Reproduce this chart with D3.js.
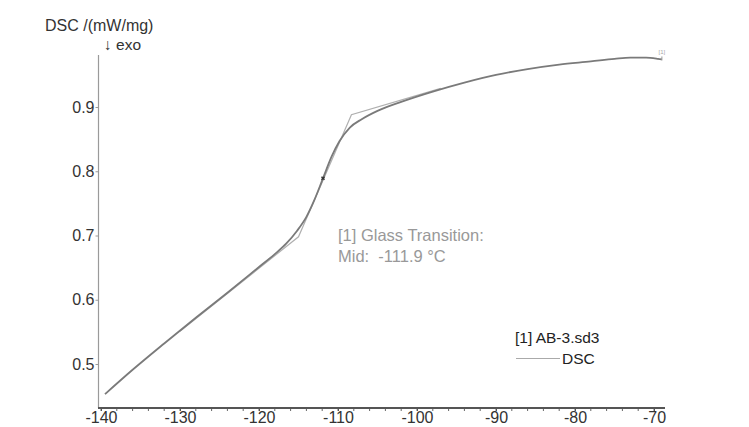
<!DOCTYPE html>
<html>
<head>
<meta charset="utf-8">
<script src="https://cdn.jsdelivr.net/npm/d3@7"></script>
<style>
  html, body { margin: 0; padding: 0; background: #fff; }
  svg { display: block; font-family: "Liberation Sans", Arial, sans-serif; }
</style>
</head>
<body>
<svg id="chart" width="749" height="427"></svg>
<script>
// ---- data ----
const temps = [-139.5, -136, -132, -128, -124, -120, -118, -116.5, -115.2, -114, -113, -111.9, -110.8, -109.8, -108.5, -107, -105, -102, -98, -94, -90, -86, -82, -78, -75, -73, -71, -69.5, -69.0];
const dscValues = [0.453, 0.491, 0.532, 0.572, 0.611, 0.651, 0.671, 0.688, 0.707, 0.729, 0.755, 0.789, 0.823, 0.847, 0.868, 0.881, 0.894, 0.908, 0.924, 0.938, 0.950, 0.959, 0.966, 0.971, 0.975, 0.977, 0.977, 0.975, 0.974];
const tangentTemps = [-130, -115, -108.3, -97];
const tangentValues = [0.551, 0.698, 0.888, 0.929];
const midTemp = -111.9, midValue = 0.789;
const xTicks = [-140, -130, -120, -110, -100, -90, -80, -70];
const yTicks = [0.5, 0.6, 0.7, 0.8, 0.9];
const yLabel = "DSC /(mW/mg)";
const exoLabel = "\u2193 exo";
const annotation = ["[1] Glass Transition:", "Mid:  -111.9 \u00B0C"];
const legendTitle = "[1] AB-3.sd3";
const legendSeries = "DSC";

// ---- layout ----
const svg = d3.select("#chart");
const x = d3.scaleLinear().domain([-140, -70]).range([101, 654]);
const y = d3.scaleLinear().domain([0.5, 0.9]).range([364, 107]);
const axisY = 408, axisX = 98.5;
const xEnd = 665, yTop = 55;
const ff = "'Liberation Sans', Arial, sans-serif";

// y axis line
svg.append("line").attr("x1", axisX).attr("x2", axisX).attr("y1", yTop).attr("y2", axisY)
  .attr("stroke", "#9a9a9a").attr("stroke-width", 1.2);

// y ticks
const yAxis = d3.axisLeft(y).tickValues(yTicks).tickFormat(d3.format(".1f")).tickSize(3).tickPadding(1);
const gy = svg.append("g").attr("transform", `translate(${axisX},0)`).call(yAxis);
gy.select(".domain").remove();
gy.selectAll(".tick line").attr("stroke", "#9a9a9a");
gy.selectAll(".tick text").attr("fill", "#333").style("font-size", "16px").style("font-family", ff);

// x minor ticks
const minor = d3.range(-140, -68.9, 2);
svg.append("g").selectAll("line").data(minor).join("line")
  .attr("x1", d => x(d)).attr("x2", d => x(d))
  .attr("y1", axisY).attr("y2", axisY + 3)
  .attr("stroke", "#666").attr("stroke-width", 1);

// x axis
const xAxis = d3.axisBottom(x).tickValues(xTicks).tickFormat(d => d).tickSize(3).tickPadding(1);
const gx = svg.append("g").attr("transform", `translate(0,${axisY})`).call(xAxis);
gx.select(".domain").remove();
gx.selectAll(".tick line").attr("stroke", "#555");
gx.selectAll(".tick text").attr("fill", "#333").style("font-size", "16px").style("font-family", ff);
svg.append("line").attr("x1", axisX - 0.5).attr("x2", xEnd).attr("y1", axisY).attr("y2", axisY)
  .attr("stroke", "#555").attr("stroke-width", 2);

// axis titles
svg.append("text").attr("x", 45).attr("y", 31).attr("fill", "#333").style("font-size", "16px").text(yLabel);
svg.append("text").attr("x", 104).attr("y", 50).attr("fill", "#333").style("font-size", "15.5px").text(exoLabel);

// tangent construction lines
const line = d3.line().x(d => x(d[0])).y(d => y(d[1]));
svg.append("path").datum(d3.zip(tangentTemps, tangentValues))
  .attr("d", line).attr("fill", "none").attr("stroke", "#b0b0b0").attr("stroke-width", 1.2);

// DSC curve
const curve = d3.line().x(d => x(d[0])).y(d => y(d[1])).curve(d3.curveMonotoneX);
svg.append("path").datum(d3.zip(temps, dscValues))
  .attr("d", curve).attr("fill", "none").attr("stroke", "#7a7a7a").attr("stroke-width", 1.8);

// end marker
const lastT = temps[temps.length - 1], lastV = dscValues[dscValues.length - 1];
svg.append("line").attr("x1", x(lastT)).attr("x2", x(lastT)).attr("y1", y(lastV) - 3).attr("y2", y(lastV) + 1)
  .attr("stroke", "#999").attr("stroke-width", 1);
svg.append("text").attr("x", x(lastT)).attr("y", y(lastV) - 5).attr("text-anchor", "middle")
  .attr("fill", "#aaa").style("font-size", "6px").text("[1]");

// midpoint marker
svg.append("path").attr("d", d3.symbol(d3.symbolCross, 10)())
  .attr("transform", `translate(${x(midTemp)},${y(midValue)}) rotate(45)`).attr("fill", "#333");

// annotation
svg.append("text").attr("x", 338).attr("y", 241).attr("fill", "#999").style("font-size", "16.5px").text(annotation[0]);
svg.append("text").attr("x", 338).attr("y", 262).attr("fill", "#999").style("font-size", "16.5px")
  .style("white-space", "pre").text(annotation[1]);

// legend
svg.append("text").attr("x", 515).attr("y", 343).attr("fill", "#222").style("font-size", "15.5px").text(legendTitle);
svg.append("line").attr("x1", 516).attr("x2", 560).attr("y1", 358.5).attr("y2", 358.5)
  .attr("stroke", "#aaa").attr("stroke-width", 1);
svg.append("text").attr("x", 562).attr("y", 364).attr("fill", "#222").style("font-size", "15.5px").text(legendSeries);
</script>
</body>
</html>
